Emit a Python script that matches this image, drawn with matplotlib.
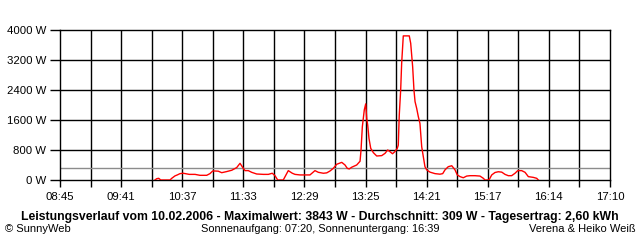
import matplotlib
matplotlib.use("Agg")
import matplotlib.pyplot as plt

# ---- data (time in minutes since midnight, power in W) ----
times = [612.2, 613.8, 615.6, 617.5, 626.0, 627.6, 630.6, 632.7, 635.2, 638.2,
         643.7, 649.0, 653.5, 659.7, 662.7, 665.2, 667.3, 670.3, 673.5, 678.1,
         682.7, 687.2, 690.3, 693.3, 694.9, 697.9, 701.0, 705.6, 711.7, 716.3,
         719.9, 722.4, 724.9, 730.0, 734.6, 738.3, 740.8, 745.4, 754.5, 759.1,
         762.2, 766.8, 769.9, 772.9, 775.9, 779.1, 783.7, 786.7, 788.8, 790.6,
         792.8, 797.4, 800.5, 801.4, 802.6, 804.4, 805.7, 806.6, 807.5, 808.7,
         810.3, 812.7, 815.8, 820.4, 823.4, 825.9, 828.0, 830.3, 832.6, 834.7,
         835.6, 836.5, 837.8, 838.7, 840.2, 845.7, 847.0, 848.8, 850.0, 851.0,
         852.5, 854.0, 855.5, 857.1, 858.6, 860.1, 861.7, 864.7, 869.3, 873.9,
         876.4, 878.5, 881.5, 884.7, 886.1, 887.7, 889.8, 892.3, 895.3, 898.4,
         901.5, 906.0, 910.6, 913.7, 915.2, 918.9, 921.4, 924.4, 927.4, 930.6,
         933.6, 936.6, 939.7, 942.8, 945.3, 948.9, 952.0, 955.0, 959.6, 962.7,
         964.2]
power = [0, 35, 45, 0, 0, 45, 110, 135, 170, 180,
         150, 150, 125, 125, 170, 240, 240, 235, 195, 225,
         260, 330, 445, 310, 250, 250, 205, 160, 150, 150,
         180, 115, 0, 0, 250, 180, 150, 135, 135, 250,
         205, 180, 190, 240, 310, 420, 470, 400, 310, 295,
         340, 400, 500, 800, 1420, 1870, 2030, 1645, 1470, 1110,
         845, 730, 640, 650, 710, 800, 755, 700, 760, 845,
         930, 1730, 2400, 3110, 3843, 3843, 3645, 3020, 2400, 2090,
         1910, 1690, 1510, 890, 620, 355, 270, 210, 170, 155,
         170, 270, 355, 380, 330, 270, 135, 90, 60, 105,
         115, 115, 105, 45, 0, 0, 135, 200, 220, 210,
         150, 115, 115, 180, 250, 250, 205, 90, 70, 45,
         0]

average = 309
x_start, x_end = 525, 1030          # 08:45 .. 17:10
x_labels = ["08:45", "09:41", "10:37", "11:33", "12:29", "13:25",
            "14:21", "15:17", "16:14", "17:10"]
y_ticks = [0, 800, 1600, 2400, 3200, 4000]
y_labels = ["0 W", "800 W", "1600 W", "2400 W", "3200 W", "4000 W"]

title = ("Leistungsverlauf vom 10.02.2006 - Maximalwert: 3843 W - "
         "Durchschnitt: 309 W - Tagesertrag: 2,60 kWh")
footer_left = "\u00a9 SunnyWeb"
footer_mid = "Sonnenaufgang: 07:20, Sonnenuntergang: 16:39"
footer_right = "Verena & Heiko Wei\u00df"

plt.rcParams['font.family'] = ['Liberation Sans', 'DejaVu Sans']

fig = plt.figure(figsize=(6.4, 2.4), dpi=100)
fig.patch.set_facecolor("white")
ax = fig.add_axes([60/640, 1 - 180/240, 550/640, 150/240])

n = len(x_labels) - 1
step = (x_end - x_start) / n
major = [x_start + i * step for i in range(n + 1)]
minor = [x_start + (i + 0.5) * step for i in range(n)]

ax.set_xlim(x_start, x_end)
ax.set_ylim(0, 4000)
ax.set_xticks(major)
ax.set_xticklabels(x_labels)
ax.set_xticks(minor, minor=True)
ax.set_yticks(y_ticks)
ax.set_yticklabels(y_labels)

for xv in major[1:-1] + minor:
    ax.axvline(xv, color="black", lw=1.0, zorder=1)
for yv in y_ticks[1:-1]:
    ax.axhline(yv, color="black", lw=1.0, zorder=1)

ax.axhline(average, color="#8c8c8c", lw=1.0, zorder=2)
ax.plot(times, power, color="#ff0000", lw=1.0, zorder=3)

for s in ax.spines.values():
    s.set_color("black")
    s.set_linewidth(1.0)

ax.tick_params(axis="x", which="both", length=5, width=1.0, pad=4,
               labelsize=8.2, colors="black")
ax.tick_params(axis="y", which="both", length=7, width=1.0, pad=3,
               labelsize=8.2, colors="black")

fig.text(320/640, 1 - 217/240, title, ha="center", va="center",
         fontsize=8.8, fontweight="bold")
fig.text(5/640, 1 - 229/240, footer_left, ha="left", va="center", fontsize=8.0)
fig.text(320/640, 1 - 229/240, footer_mid, ha="center", va="center", fontsize=7.9)
fig.text(636/640, 1 - 229/240, footer_right, ha="right", va="center", fontsize=8.0)

fig.savefig("out.png", dpi=100, facecolor="white")
